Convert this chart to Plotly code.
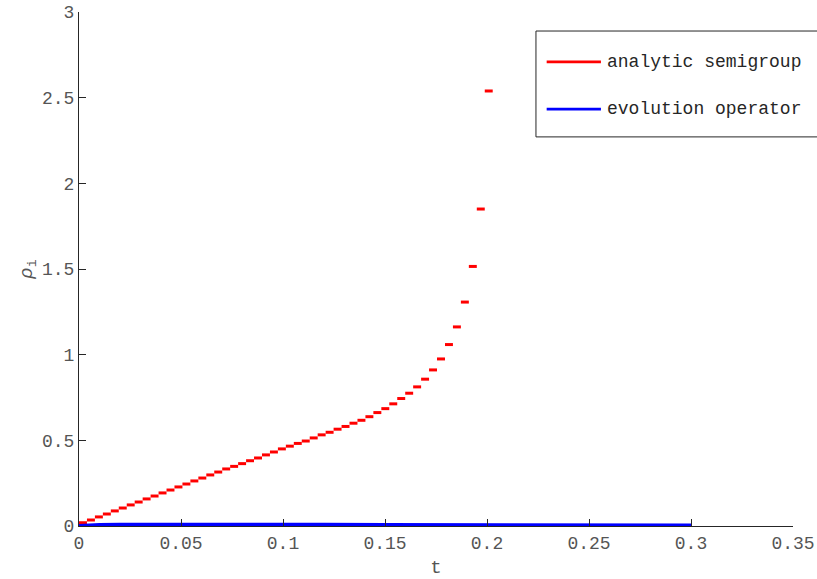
import plotly.graph_objects as go

# ---- data ----
step_size = 0.0039  # width of each piecewise-constant step in t
rho_analytic = [0.019, 0.035, 0.053, 0.070, 0.088, 0.105, 0.123, 0.140, 0.158, 0.175,
                0.193, 0.210, 0.228, 0.245, 0.263, 0.280, 0.298, 0.315, 0.333, 0.348,
                0.364, 0.381, 0.397, 0.415, 0.432, 0.450, 0.466, 0.482, 0.496, 0.514,
                0.532, 0.547, 0.565, 0.581, 0.600, 0.617, 0.638, 0.662, 0.685, 0.713,
                0.744, 0.775, 0.812, 0.857, 0.911, 0.975, 1.059, 1.162, 1.307, 1.515,
                1.850, 2.539]
t_edges = [round(k * step_size, 5) for k in range(len(rho_analytic) + 1)]

t_evol = [0, 0.005, 0.01, 0.02, 0.04, 0.06, 0.08, 0.1, 0.12, 0.15, 0.2, 0.25, 0.3]
rho_evol = [0.0, 0.004, 0.006, 0.007, 0.008, 0.008, 0.008, 0.007, 0.007, 0.006, 0.005, 0.004, 0.003]

x_ticks = [0, 0.05, 0.1, 0.15, 0.2, 0.25, 0.3, 0.35]
x_tick_labels = ["0", "0.05", "0.1", "0.15", "0.2", "0.25", "0.3", "0.35"]
y_ticks = [0, 0.5, 1, 1.5, 2, 2.5, 3]
y_tick_labels = ["0", "0.5", "1", "1.5", "2", "2.5", "3"]

legend_names = ["analytic semigroup", "evolution operator"]
colors = ["#ff0000", "#0000ff"]

# ---- build figure ----
rx, ry = [], []
for k, v in enumerate(rho_analytic):
    rx += [t_edges[k], t_edges[k + 1], None]
    ry += [v, v, None]

fig = go.Figure()
fig.add_trace(go.Scatter(x=rx, y=ry, mode="lines", name=legend_names[0],
                         line=dict(color=colors[0], width=3), showlegend=False,
                         connectgaps=False))
fig.add_trace(go.Scatter(x=t_evol, y=rho_evol, mode="lines", name=legend_names[1],
                         line=dict(color=colors[1], width=4), showlegend=False))

FONT = "Liberation Mono"
axis_common = dict(showgrid=False, zeroline=False, showline=True, linecolor="#262626",
                   linewidth=1, ticks="inside", ticklen=7, tickcolor="#262626",
                   tickfont=dict(family=FONT, size=18, color="#555555"), mirror=False,
                   automargin=False)

fig.update_xaxes(range=[0, 0.35], tickvals=x_ticks, ticktext=x_tick_labels,
                 title=dict(text="t", font=dict(family=FONT, size=19, color="#555555"), standoff=14),
                 **axis_common)
fig.update_yaxes(range=[0, 3], tickvals=y_ticks, ticktext=y_tick_labels,
                 title=dict(text="<i>ρ</i><sub>i</sub>", font=dict(family=FONT, size=19, color="#555555"),
                            standoff=4),
                 **axis_common)

# manual legend (box, line samples, labels)
box = dict(x0=0.640, x1=1.08, y0=0.757, y1=0.963)
fig.add_shape(type="rect", xref="paper", yref="paper", **box,
              line=dict(color="#262626", width=1), fillcolor="white", layer="above")
entry_y = [0.903, 0.811]
for name, col, yy in zip(legend_names, colors, entry_y):
    fig.add_shape(type="line", xref="paper", yref="paper", x0=0.655, x1=0.731, y0=yy, y1=yy,
                  line=dict(color=col, width=2.6), layer="above")
    fig.add_annotation(xref="paper", yref="paper", x=0.736, y=yy, text=name, showarrow=False,
                       xanchor="left", yanchor="middle",
                       font=dict(family=FONT, size=18, color="#262626"))

fig.update_layout(width=817, height=579, margin=dict(l=79, r=24, t=12, b=53),
                  paper_bgcolor="white", plot_bgcolor="white", showlegend=False)

fig.write_html("out.html", config={"displayModeBar": False},
               post_script="document.body.style.margin='0';document.body.style.overflow='hidden';")
